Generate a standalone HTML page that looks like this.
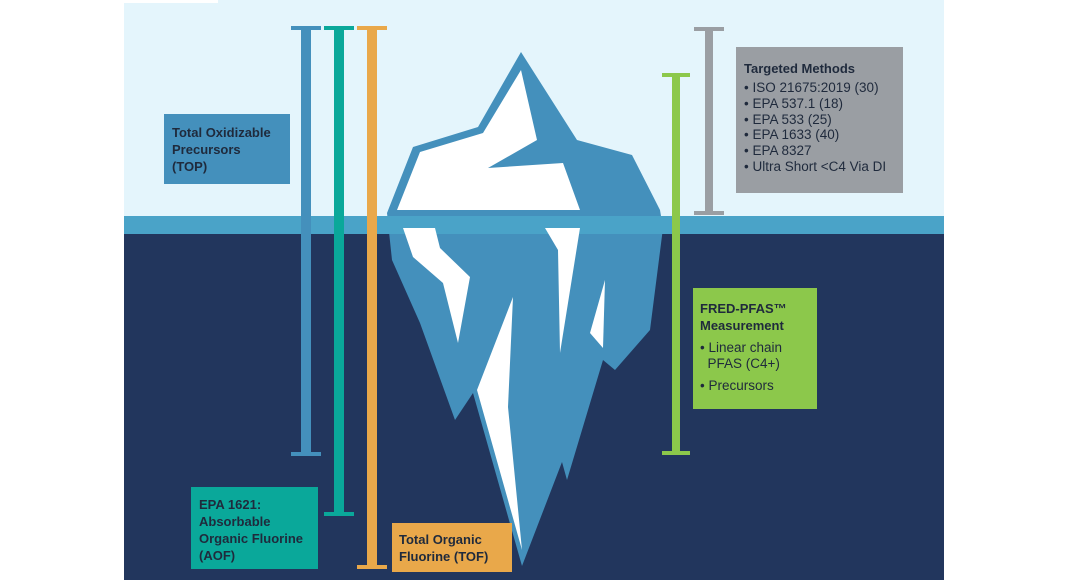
<!DOCTYPE html>
<html><head><meta charset="utf-8"><style>
html,body{margin:0;padding:0;background:#fff;width:1068px;height:580px;overflow:hidden}
.b{position:absolute;font-family:"Liberation Sans",sans-serif;color:#1f2a3c;box-sizing:border-box}
.t{font-weight:bold;font-size:13px;line-height:17px}
.l{font-size:13.5px;line-height:15.8px}
</style></head><body>
<svg width="1068" height="580" style="position:absolute;left:0;top:0">
<rect x="124" y="0" width="820" height="216" fill="#e4f5fc"/>
<rect x="124" y="0" width="94" height="3" fill="#ffffff"/>
<rect x="124" y="234" width="820" height="346" fill="#22365d"/>
<polygon points="521,52 577,140 632,155 660,210 663,228 650,330 615,370 603,360 567,480 562,462 522,566 473,393 455,420 420,323 392,260 387,213 413,147 478,127" fill="#4490bc"/>
<polygon points="521,70 537,140 488,168 563,163 580,210 397,210 420,152 483,133" fill="#fff"/>
<rect x="124" y="216" width="820" height="18" fill="#4aa3c8"/>
<polygon points="403,228 435,228 440,248 470,277 458,343 443,283 413,257" fill="#fff"/>
<polygon points="545,228 580,228 560,353 558,250" fill="#fff"/>
<polygon points="605,280 590,333 603,348" fill="#fff"/>
<polygon points="513,297 477,390 522,550 508,407" fill="#fff"/>
<g fill="#4490bc"><rect x="301" y="26" width="10" height="430"/><rect x="291" y="26" width="30" height="4"/><rect x="291" y="452" width="30" height="4"/></g>
<g fill="#0aa89a"><rect x="334" y="26" width="10" height="490"/><rect x="324" y="26" width="30" height="4"/><rect x="324" y="512" width="30" height="4"/></g>
<g fill="#e9a84a"><rect x="367" y="26" width="10" height="543"/><rect x="357" y="26" width="30" height="4"/><rect x="357" y="565" width="30" height="4"/></g>
<g fill="#9a9ea3"><rect x="705" y="27" width="8" height="188"/><rect x="694" y="27" width="30" height="4"/><rect x="694" y="211" width="30" height="4"/></g>
<g fill="#8cc84b"><rect x="672" y="73" width="8" height="382"/><rect x="662" y="73" width="28" height="4"/><rect x="662" y="451" width="28" height="4"/></g>
</svg>
<div class="b t" style="left:164px;top:114px;width:126px;height:70px;background:#4490bc;padding:10px 0 0 8px">Total Oxidizable<br>Precursors<br>(TOP)</div>
<div class="b" style="left:736px;top:47px;width:167px;height:146px;background:#9a9ea3;padding:13px 0 0 8px">
<div class="t" style="margin-bottom:3px">Targeted Methods</div>
<div class="l">• ISO 21675:2019 (30)<br>• EPA 537.1 (18)<br>• EPA 533 (25)<br>• EPA 1633 (40)<br>• EPA 8327<br>• Ultra Short &lt;C4 Via DI</div></div>
<div class="b" style="left:693px;top:288px;width:124px;height:121px;background:#8cc84b;padding:12px 0 0 7px">
<div class="t">FRED-PFAS™<br>Measurement</div>
<div class="l" style="margin-top:6px">• Linear chain<br>&nbsp;&nbsp;PFAS (C4+)</div>
<div class="l" style="margin-top:6px">• Precursors</div></div>
<div class="b t" style="left:191px;top:487px;width:127px;height:82px;background:#0aa89a;padding:9px 0 0 8px">EPA 1621:<br>Absorbable<br>Organic Fluorine<br>(AOF)</div>
<div class="b t" style="left:392px;top:523px;width:120px;height:49px;background:#e9a84a;padding:8px 0 0 7px">Total Organic<br>Fluorine (TOF)</div>
</body></html>
